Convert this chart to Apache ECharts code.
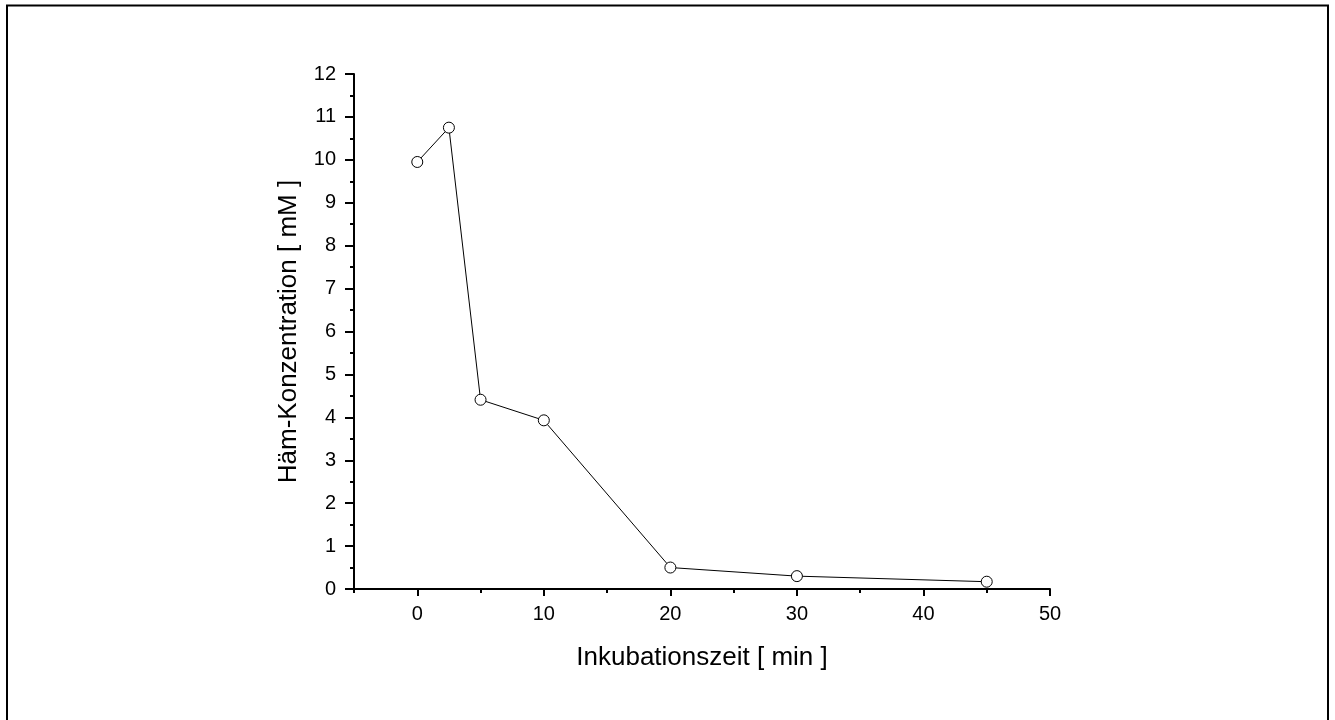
<!DOCTYPE html>
<html>
<head>
<meta charset="utf-8">
<script src="https://cdn.jsdelivr.net/npm/echarts@6/dist/echarts.min.js"></script>
<style>
html,body{margin:0;padding:0;background:#fff;}
#chart{width:1335px;height:720px;}
</style>
</head>
<body>
<div id="chart"></div>
<script>
const xValues = [0, 2.5, 5, 10, 20, 30, 45];
const yValues = [9.95, 10.75, 4.41, 3.93, 0.5, 0.3, 0.17];
const xMajorTicks = [0, 10, 20, 30, 40, 50];
const xTitle = 'Inkubationszeit [ min ]';
const yTitle = 'Häm-Konzentration [ mM ]';

const font = 'Liberation Sans, Arial, sans-serif';
const chart = echarts.init(document.getElementById('chart'), null, {renderer: 'canvas'});
chart.setOption({
  backgroundColor: '#fff',
  animation: false,
  graphic: [{
    type: 'rect',
    shape: {x: 7, y: 5.5, width: 1321, height: 720},
    style: {fill: 'none', stroke: '#000', lineWidth: 2},
    silent: true
  }],
  grid: {left: 354, top: 74, right: 285, bottom: 131, containLabel: false},
  xAxis: [{
    type: 'value', min: -5, max: 50, interval: 5,
    name: xTitle, nameLocation: 'middle', nameGap: 56,
    nameTextStyle: {fontFamily: font, fontSize: 26, color: '#000'},
    axisLine: {show: true, onZero: false, lineStyle: {color: '#000', width: 2}},
    axisTick: {show: true, inside: false, length: 4, lineStyle: {color: '#000', width: 2}},
    axisLabel: {show: false},
    splitLine: {show: false}
  }, {
    type: 'value', min: -5, max: 50, position: 'bottom', gridIndex: 0,
    axisLine: {show: false},
    axisTick: {show: true, length: 7, customValues: xMajorTicks, lineStyle: {color: '#000', width: 2}},
    axisLabel: {show: true, customValues: xMajorTicks, margin: 15, fontFamily: font, fontSize: 20, color: '#000'},
    splitLine: {show: false}
  }],
  yAxis: {
    type: 'value', min: 0, max: 12, interval: 1,
    name: yTitle, nameLocation: 'middle', nameGap: 52, nameRotate: 90,
    nameTextStyle: {fontFamily: font, fontSize: 26, color: '#000'},
    axisLine: {show: true, onZero: false, lineStyle: {color: '#000', width: 2}},
    axisTick: {show: true, length: 9, lineStyle: {color: '#000', width: 2}},
    minorTick: {show: true, splitNumber: 2, length: 4, lineStyle: {color: '#000', width: 2}},
    axisLabel: {margin: 18, fontFamily: font, fontSize: 20, color: '#000'},
    splitLine: {show: false}
  },
  series: [{
    type: 'line',
    xAxisIndex: 0,
    data: xValues.map((x, i) => [x, yValues[i]]),
    symbol: 'circle', symbolSize: 11, showAllSymbol: true,
    itemStyle: {color: '#fff', borderColor: '#000', borderWidth: 1},
    lineStyle: {color: '#000', width: 1},
    z: 5
  }]
});
</script>
</body>
</html>
